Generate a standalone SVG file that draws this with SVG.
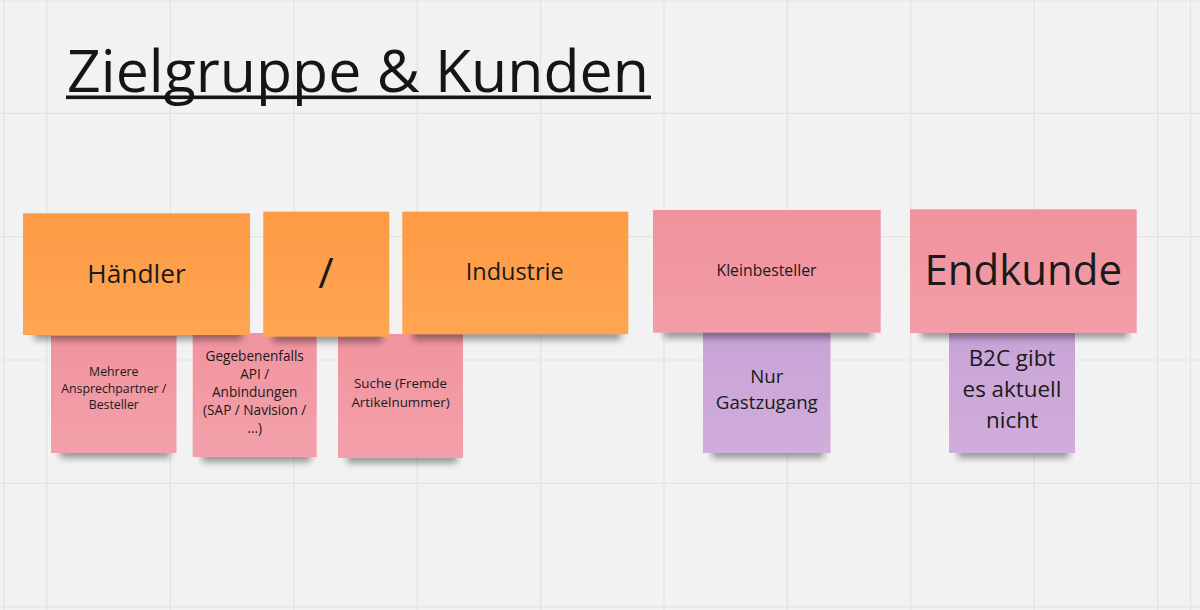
<svg xmlns="http://www.w3.org/2000/svg" width="1200" height="610" viewBox="0 0 1200 610">
  <style>
    .grid line { stroke: #e3e3e3; stroke-width: 1.2; }
    .t { font-family: "Open Sans", "Noto Sans", "DejaVu Sans", sans-serif; fill: #1a1a1a; text-anchor: middle; }
    .title { font-family: "Open Sans", "Noto Sans", "DejaVu Sans", sans-serif; fill: #151515; font-size: 59px; }
    .shadow { fill: #000; opacity: 0.38; filter: url(#blur); }
  </style>
  <defs>
    <filter id="blur" x="-20%" y="-100%" width="140%" height="300%">
      <feGaussianBlur stdDeviation="3.5"/>
    </filter>
    <linearGradient id="gOrange" x1="0" y1="0" x2="0" y2="1">
      <stop offset="0" stop-color="#fe9a45"/>
      <stop offset="1" stop-color="#ffa552"/>
    </linearGradient>
    <linearGradient id="gPink" x1="0" y1="0" x2="0" y2="1">
      <stop offset="0" stop-color="#f0929d"/>
      <stop offset="1" stop-color="#f39da7"/>
    </linearGradient>
    <linearGradient id="gPinkS" x1="0" y1="0" x2="0" y2="1">
      <stop offset="0" stop-color="#f1949f"/>
      <stop offset="1" stop-color="#f3a0aa"/>
    </linearGradient>
    <linearGradient id="gPurple" x1="0" y1="0" x2="0" y2="1">
      <stop offset="0" stop-color="#c9a3d7"/>
      <stop offset="1" stop-color="#d0addb"/>
    </linearGradient>
  </defs>

  <rect x="0" y="0" width="1200" height="610" fill="#f2f2f2"/>
  <g class="grid">
    <line x1="0" y1="1" x2="1200" y2="1"/>
    <line x1="0" y1="113.3" x2="1200" y2="113.3"/>
    <line x1="0" y1="236.7" x2="1200" y2="236.7"/>
    <line x1="0" y1="360" x2="1200" y2="360"/>
    <line x1="0" y1="483.4" x2="1200" y2="483.4"/>
    <line x1="0" y1="606.8" x2="1200" y2="606.8"/>
    <line x1="4" y1="0" x2="4" y2="610"/>
    <line x1="47" y1="0" x2="47" y2="610"/>
    <line x1="170.4" y1="0" x2="170.4" y2="610"/>
    <line x1="293.8" y1="0" x2="293.8" y2="610"/>
    <line x1="417.2" y1="0" x2="417.2" y2="610"/>
    <line x1="540.6" y1="0" x2="540.6" y2="610"/>
    <line x1="664" y1="0" x2="664" y2="610"/>
    <line x1="787.4" y1="0" x2="787.4" y2="610"/>
    <line x1="910.8" y1="0" x2="910.8" y2="610"/>
    <line x1="1034.2" y1="0" x2="1034.2" y2="610"/>
    <line x1="1157.6" y1="0" x2="1157.6" y2="610"/>
    <line x1="1190.5" y1="0" x2="1190.5" y2="610"/>
  </g>

  <g id="title">
    <text class="title" x="67" y="91.5">Zielgruppe &amp; Kunden</text>
    <rect x="66" y="95.5" width="585" height="3.6" fill="#151515"/>
  </g>

  <g id="connectors"/>

  <!-- second row (drawn first so top row overlaps) -->
  <g id="note-mehrere">
    <rect class="shadow" x="60" y="446" width="110" height="12"/>
    <rect x="51" y="336" width="125.5" height="117" fill="url(#gPinkS)"/>
    <text class="t" font-size="12.3" x="113.8" y="376">Mehrere</text>
    <text class="t" font-size="12.3" x="113.8" y="392.5">Ansprechpartner /</text>
    <text class="t" font-size="12.3" x="113.8" y="409">Besteller</text>
  </g>
  <g id="note-gegebenenfalls">
    <rect class="shadow" x="202" y="450" width="109" height="12"/>
    <rect x="192.7" y="333" width="124" height="124" fill="url(#gPinkS)"/>
    <text class="t" font-size="13.6" x="254.7" y="360.5">Gegebenenfalls</text>
    <text class="t" font-size="13.6" x="254.7" y="378.7">API /</text>
    <text class="t" font-size="13.6" x="254.7" y="396.9">Anbindungen</text>
    <text class="t" font-size="13.6" x="254.7" y="415">(SAP / Navision /</text>
    <text class="t" font-size="13.6" x="254.7" y="433.3">...)</text>
  </g>
  <g id="note-suche">
    <rect class="shadow" x="347" y="451" width="110" height="12"/>
    <rect x="338" y="334" width="125" height="124" fill="url(#gPinkS)"/>
    <text class="t" font-size="13.4" x="400.5" y="388.3">Suche (Fremde</text>
    <text class="t" font-size="13.4" x="400.5" y="406.7">Artikelnummer)</text>
  </g>
  <g id="note-gastzugang">
    <rect class="shadow" x="712" y="446" width="112" height="12"/>
    <rect x="703" y="332" width="127.5" height="121" fill="url(#gPurple)"/>
    <text class="t" font-size="18.7" x="766.8" y="382.7">Nur</text>
    <text class="t" font-size="18.7" x="766.8" y="409.3">Gastzugang</text>
  </g>
  <g id="note-b2c">
    <rect class="shadow" x="958" y="446" width="111" height="12"/>
    <rect x="949" y="332" width="126" height="121" fill="url(#gPurple)"/>
    <text class="t" font-size="22.4" x="1012" y="365.7">B2C gibt</text>
    <text class="t" font-size="22.4" x="1012" y="396.7">es aktuell</text>
    <text class="t" font-size="22.4" x="1012" y="427.7">nicht</text>
  </g>

  <!-- top row -->
  <g id="note-haendler">
    <rect class="shadow" x="34" y="328" width="208" height="12"/>
    <rect x="23" y="213.3" width="227" height="121.7" fill="url(#gOrange)"/>
    <text class="t" font-size="26.3" x="136.5" y="282.7">Händler</text>
  </g>
  <g id="note-slash">
    <rect class="shadow" x="273" y="330" width="109" height="12"/>
    <rect x="263.3" y="211.7" width="126" height="125" fill="url(#gOrange)"/>
    <text class="t" font-size="42" x="326" y="288">/</text>
  </g>
  <g id="note-industrie">
    <rect class="shadow" x="413" y="328" width="208" height="12"/>
    <rect x="402.3" y="211.7" width="226" height="122.6" fill="url(#gOrange)"/>
    <text class="t" font-size="23.5" x="514.7" y="280">Industrie</text>
  </g>
  <g id="note-kleinbesteller">
    <rect class="shadow" x="664" y="326" width="208" height="12"/>
    <rect x="653" y="210" width="227.7" height="122.7" fill="url(#gPink)"/>
    <text class="t" font-size="15.8" x="766.5" y="276">Kleinbesteller</text>
  </g>
  <g id="note-endkunde">
    <rect class="shadow" x="921" y="326" width="207" height="12"/>
    <rect x="910" y="209.3" width="226.7" height="123.7" fill="url(#gPink)"/>
    <text class="t" font-size="42" x="1023.3" y="285">Endkunde</text>
  </g>
</svg>
